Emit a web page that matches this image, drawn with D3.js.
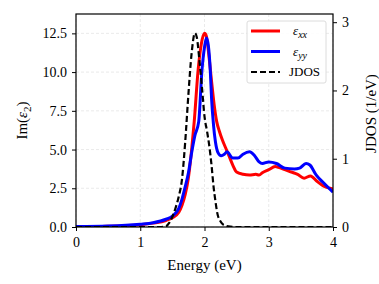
<!DOCTYPE html>
<html>
<head>
<meta charset="utf-8">
<script src="https://cdn.jsdelivr.net/npm/d3@7"></script>
<style>
  body { margin: 0; background: #fff; }
</style>
</head>
<body>
<div class="container"></div>
<script>
let serif = "'Liberation Serif'";

// energy grid (eV) and values
let energyXX = [0, 0.5, 1.0, 1.2, 1.4, 1.5, 1.6, 1.65, 1.7, 1.75, 1.8, 1.84, 1.9, 1.95, 2.0, 2.03, 2.07, 2.11, 2.15, 2.19, 2.23, 2.28, 2.33, 2.38, 2.44, 2.5, 2.6, 2.7, 2.8, 2.85, 2.9, 3.0, 3.1, 3.15, 3.25, 3.35, 3.45, 3.55, 3.65, 3.75, 3.85, 3.95, 4.0];
let epsXX = [0.02, 0.05, 0.15, 0.25, 0.42, 0.6, 0.95, 1.4, 2.1, 3.2, 5.0, 6.8, 10.1, 11.8, 12.5, 12.3, 11.0, 9.4, 7.9, 6.8, 6.2, 5.6, 5.1, 4.6, 4.0, 3.55, 3.4, 3.35, 3.4, 3.35, 3.5, 3.7, 3.9, 3.85, 3.7, 3.55, 3.4, 3.15, 3.3, 2.95, 2.65, 2.5, 2.45];

let energyYY = [0, 0.5, 1.0, 1.2, 1.4, 1.5, 1.6, 1.65, 1.7, 1.75, 1.8, 1.85, 1.91, 1.96, 2.0, 2.03, 2.06, 2.09, 2.11, 2.14, 2.17, 2.21, 2.26, 2.31, 2.35, 2.44, 2.52, 2.6, 2.7, 2.78, 2.85, 2.9, 3.0, 3.12, 3.25, 3.4, 3.48, 3.58, 3.64, 3.74, 3.84, 4.0];
let epsYY = [0.03, 0.06, 0.18, 0.28, 0.5, 0.7, 1.2, 1.8, 2.6, 3.5, 4.8, 5.9, 6.8, 10.1, 11.6, 12.2, 11.7, 10.1, 8.3, 6.6, 5.5, 4.8, 4.6, 4.7, 4.85, 4.45, 4.45, 4.7, 4.85, 4.6, 4.2, 4.1, 4.2, 4.1, 3.8, 3.75, 3.8, 4.1, 4.0, 3.35, 2.9, 2.25];

let energyJ = [0, 1.3, 1.4, 1.45, 1.5, 1.55, 1.6, 1.65, 1.7, 1.75, 1.8, 1.85, 1.88, 1.92, 1.96, 2.0, 2.04, 2.08, 2.11, 2.14, 2.17, 2.2, 2.25, 2.3, 2.4, 2.5, 4.0];
let jdos = [0, 0, 0.01, 0.06, 0.15, 0.28, 0.45, 0.7, 1.25, 1.95, 2.55, 2.84, 2.78, 2.45, 2.05, 1.62, 1.4, 1.15, 0.9, 0.6, 0.38, 0.2, 0.08, 0.03, 0.005, 0, 0];

let xTicks = [0, 1, 2, 3, 4];
let yTicks = [0, 2.5, 5, 7.5, 10, 12.5];
let y2Ticks = [0, 1, 2, 3];

let margin = { top: 14, right: 46, bottom: 57, left: 76 };
let width = 379 - margin.left - margin.right;
let height = 284 - margin.top - margin.bottom;

let svg = d3
  .select('.container')
  .append('svg')
  .attr('width', 379)
  .attr('height', 284)
  .append('g')
  .attr('transform', 'translate(' + margin.left + ',' + margin.top + ')');

let xScale = d3.scaleLinear().domain([0, 4]).range([0, width]);
let yScale = d3.scaleLinear().domain([0, 13.75]).range([height, 0]);
let y2Scale = d3.scaleLinear().domain([0, 3.12]).range([height, 0]);

// grid
svg
  .append('g')
  .selectAll('line')
  .data(xTicks)
  .enter()
  .append('line')
  .attr('x1', (d) => xScale(d))
  .attr('x2', (d) => xScale(d))
  .attr('y1', 0)
  .attr('y2', height)
  .attr('stroke', '#e4e4e4')
  .attr('stroke-width', 0.8)
  .attr('stroke-dasharray', '3,2');

svg
  .append('g')
  .selectAll('line')
  .data(yTicks)
  .enter()
  .append('line')
  .attr('x1', 0)
  .attr('x2', width)
  .attr('y1', (d) => yScale(d))
  .attr('y2', (d) => yScale(d))
  .attr('stroke', '#e4e4e4')
  .attr('stroke-width', 0.8)
  .attr('stroke-dasharray', '3,2');

svg
  .append('clipPath')
  .attr('id', 'clip')
  .append('rect')
  .attr('width', width)
  .attr('height', height);

let plot = svg.append('g').attr('clip-path', 'url(#clip)');

let lineL = d3
  .line()
  .x((d) => xScale(d[0]))
  .y((d) => yScale(d[1]))
  .curve(d3.curveMonotoneX);

let lineR = d3
  .line()
  .x((d) => xScale(d[0]))
  .y((d) => y2Scale(d[1]))
  .curve(d3.curveMonotoneX);

plot
  .append('path')
  .datum(d3.zip(energyXX, epsXX))
  .attr('d', lineL)
  .attr('fill', 'none')
  .attr('stroke', '#ff0000')
  .attr('stroke-width', 3);

plot
  .append('path')
  .datum(d3.zip(energyYY, epsYY))
  .attr('d', lineL)
  .attr('fill', 'none')
  .attr('stroke', '#0000ff')
  .attr('stroke-width', 3);

plot
  .append('path')
  .datum(d3.zip(energyJ, jdos))
  .attr('d', lineR)
  .attr('fill', 'none')
  .attr('stroke', '#000')
  .attr('stroke-width', 2.2)
  .attr('stroke-dasharray', '6,3');

// axes
let xAxis = d3.axisBottom(xScale).tickValues(xTicks).tickFormat(d3.format('d')).tickSize(4).tickPadding(6);
let yAxis = d3.axisLeft(yScale).tickValues(yTicks).tickFormat(d3.format('.1f')).tickSize(4).tickPadding(5);
let y2Axis = d3.axisRight(y2Scale).tickValues(y2Ticks).tickFormat(d3.format('d')).tickSize(4).tickPadding(5);

let gx = svg.append('g').attr('transform', 'translate(0,' + height + ')').call(xAxis);
let gy = svg.append('g').call(yAxis);
let gy2 = svg.append('g').attr('transform', 'translate(' + width + ',0)').call(y2Axis);

[gx, gy, gy2].forEach((g) => {
  g.select('.domain').remove();
  g.selectAll('line').attr('stroke', '#000').attr('stroke-width', 1);
  g.selectAll('text')
    .attr('fill', '#000')
    .style('font-family', serif)
    .style('font-size', '14px');
});

// frame
svg
  .append('rect')
  .attr('width', width)
  .attr('height', height)
  .attr('fill', 'none')
  .attr('stroke', '#000')
  .attr('stroke-width', 1.2);

// axis labels
svg
  .append('text')
  .attr('x', width / 2)
  .attr('y', height + 43)
  .attr('text-anchor', 'middle')
  .style('font-family', serif)
  .style('font-size', '15px')
  .text('Energy (eV)');

let yl = svg
  .append('text')
  .attr('transform', 'translate(-49,' + height / 2 + ') rotate(-90)')
  .attr('text-anchor', 'middle')
  .style('font-family', serif)
  .style('font-size', '15px');
yl.append('tspan').text('Im(');
yl.append('tspan').style('font-style', 'italic').text('ε');
yl.append('tspan').attr('dy', 4).style('font-size', '11px').text('2');
yl.append('tspan').attr('dy', -4).text(')');

svg
  .append('text')
  .attr('transform', 'translate(' + (width + 43) + ',' + (height / 2 - 7) + ') rotate(-90)')
  .attr('text-anchor', 'middle')
  .style('font-family', serif)
  .style('font-size', '15px')
  .text('JDOS (1/eV)');

// legend
let legend = svg.append('g').attr('transform', 'translate(' + (width - 86) + ',7)');
legend
  .append('rect')
  .attr('width', 79)
  .attr('height', 62)
  .attr('rx', 2)
  .attr('fill', '#fff')
  .attr('fill-opacity', 0.85)
  .attr('stroke', '#dcdcdc')
  .attr('stroke-width', 1);

let entries = [
  { sym: 'ε', sub: 'xx', color: '#ff0000', dash: null, w: 3 },
  { sym: 'ε', sub: 'yy', color: '#0000ff', dash: null, w: 3 },
  { sym: 'JDOS', sub: null, color: '#000', dash: '6,3', w: 2.2 },
];

entries.forEach((e, i) => {
  let yy = 10 + i * 20.5;
  legend
    .append('line')
    .attr('x1', 4)
    .attr('x2', 33)
    .attr('y1', yy)
    .attr('y2', yy)
    .attr('stroke', e.color)
    .attr('stroke-width', e.w)
    .attr('stroke-dasharray', e.dash);
  let t = legend
    .append('text')
    .attr('x', e.sub ? 46 : 42)
    .attr('y', yy + 4)
    .style('font-family', serif)
    .style('font-size', '13px');
  if (e.sub) {
    t.append('tspan').style('font-style', 'italic').text(e.sym);
    t.append('tspan').attr('dy', 3).style('font-style', 'italic').style('font-size', '10px').text(e.sub);
  } else {
    t.text(e.sym);
  }
});
</script>
</body>
</html>
